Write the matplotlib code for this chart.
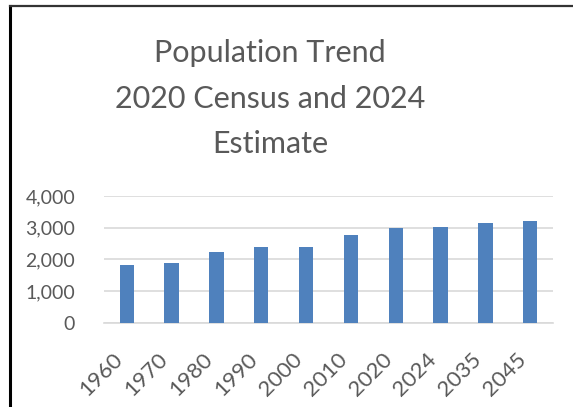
import matplotlib.pyplot as plt
from matplotlib.lines import Line2D

# 数据
years = ['1960', '1970', '1980', '1990', '2000', '2010', '2020', '2024', '2035', '2045']
population = [1830, 1880, 2230, 2390, 2390, 2780, 2990, 3010, 3150, 3200]
title_lines = ['Population Trend', '2020 Census and 2024', 'Estimate']
y_ticks = [0, 1000, 2000, 3000, 4000]

W, H = 573, 407
plt.rcParams['font.family'] = ['Lato', 'DejaVu Sans']
grey = '#595959'

fig = plt.figure(figsize=(W / 100, H / 100), dpi=100)
ax = fig.add_axes([104.3 / W, 1 - 322.7 / H, (552.7 - 104.3) / W, (322.7 - 196) / H])

x = range(len(years))
ax.bar(x, population, width=0.32, color='#4f81bd', zorder=3)

ax.set_xlim(-0.5, len(years) - 0.5)
ax.set_ylim(0, 4000)
ax.set_yticks(y_ticks)
ax.set_yticklabels(['{:,}'.format(v) for v in y_ticks])
ax.set_xticks(list(x))
ax.set_xticklabels(years, rotation=45, ha='right', va='top')
ax.grid(axis='y', color='#d9d9d9', linewidth=1.2, zorder=0)
for s in ['left', 'right', 'top']:
    ax.spines[s].set_visible(False)
ax.spines['bottom'].set_color('#d9d9d9')
ax.spines['bottom'].set_linewidth(1.2)
ax.tick_params(axis='y', length=0, pad=21, labelsize=14, labelcolor=grey)
ax.tick_params(axis='x', length=0, pad=19, labelsize=16, labelcolor=grey)

# 标题，三行
for line, base in zip(title_lines, [62, 108, 153]):
    fig.text(270 / W, 1 - base / H, line, ha='center', va='baseline',
             fontsize=22, color=grey)

# 外框（只露出左边和上边）
fig.add_artist(Line2D([9.5 / W, 9.5 / W], [0, 1 - 5.5 / H], color='black',
                      linewidth=2.2, transform=fig.transFigure))
fig.add_artist(Line2D([9.5 / W, 1], [1 - 5.5 / H, 1 - 5.5 / H], color='#333333',
                      linewidth=1.6, transform=fig.transFigure))

fig.savefig('out.png', dpi=100)
